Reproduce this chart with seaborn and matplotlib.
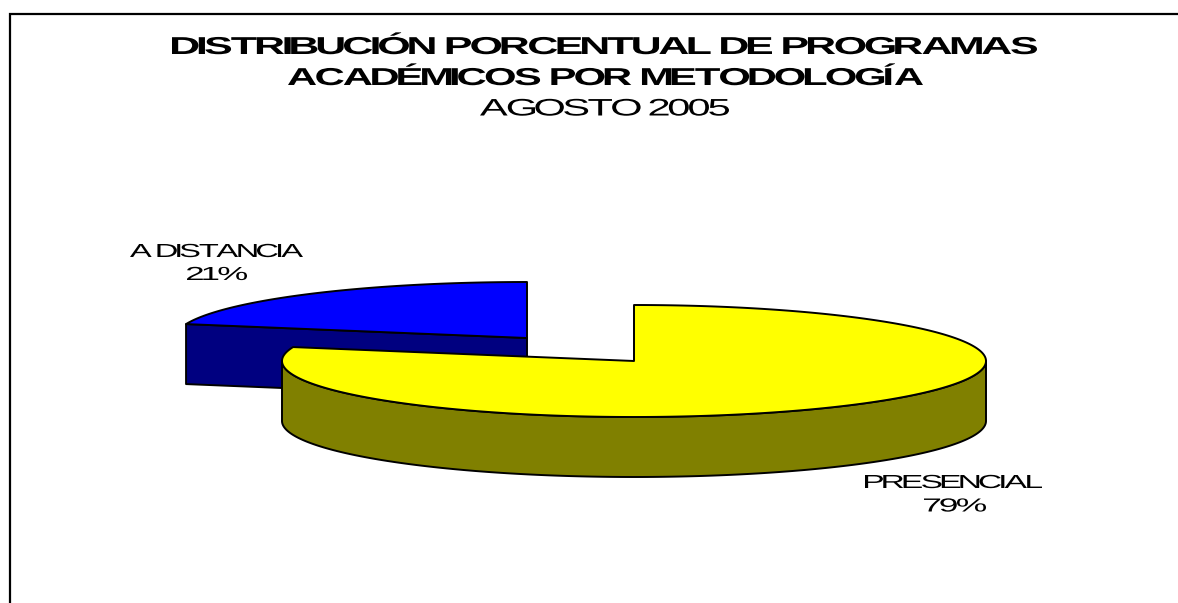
import numpy as np
import matplotlib
matplotlib.use("Agg")
import matplotlib.pyplot as plt
import matplotlib.patheffects as pe
from matplotlib.path import Path
import seaborn as sns

# ---- data ----
categories = ["PRESENCIAL", "A DISTANCIA"]
percentages = [79, 21]
top_colors = ["#FFFF00", "#0000FF"]
side_colors = ["#808000", "#000080"]
title_lines = ["DISTRIBUCIÓN PORCENTUAL DE PROGRAMAS",
               "ACADÉMICOS POR METODOLOGÍA"]
subtitle = "AGOSTO 2005"

sns.set_theme(style="white")
plt.rcParams["font.family"] = ["Liberation Sans", "DejaVu Sans"]

W, H = 1178, 603
fig = plt.figure(figsize=(W / 100, H / 100), dpi=100, facecolor="white")
ax = fig.add_axes([0, 0, 1, 1])
ax.set_xlim(0, W)
ax.set_ylim(H, 0)
ax.axis("off")

RX, RY, DEPTH = 352, 56, 60
centers = [(634, 361), (527, 338)]
LW = 1.4
EC = "black"


def arc(c, a0, a1, dy=0, n=200):
    t = np.radians(np.linspace(a0, a1, n))
    return np.column_stack([c[0] + RX * np.cos(t), c[1] - RY * np.sin(t) + dy])


# slice angles come from the values: clockwise from 12 o'clock
total = sum(percentages)
sweep = [p / total * 360 for p in percentages]
a_split = 90 - sweep[0] + 360  # boundary between slices, measured ccw

# --- blue slice (back, exploded left)
cb = np.array(centers[1], float)
blue_top = np.vstack([[cb], arc(cb, 90, a_split)])
tip = arc(cb, a_split, a_split, n=1)[0]
face = np.array([cb, tip, tip + [0, DEPTH], cb + [0, DEPTH]])
ax.fill(*face.T, fc=side_colors[1], ec=EC, lw=LW, joinstyle="round", zorder=1)
ax.fill(*blue_top.T, fc=top_colors[1], ec=EC, lw=LW, joinstyle="round", zorder=2)

# --- yellow slice (front)
cy = np.array(centers[0], float)
wall = np.vstack([arc(cy, 180, 360), arc(cy, 360, 180, dy=DEPTH)])
ax.fill(*wall.T, fc=side_colors[0], ec=EC, lw=LW, joinstyle="round", zorder=3)
yel_top = np.vstack([[cy], arc(cy, a_split, 450, n=400)])
ax.fill(*yel_top.T, fc=top_colors[0], ec=EC, lw=LW, joinstyle="round", zorder=4)

# --- chart frame: left and top edges only, the picture is cropped on the others
ax.plot([10, 10, W], [H, 14, 14], color="black", lw=1.6, zorder=5,
        solid_joinstyle="miter")


class FitWide(pe.AbstractPathEffect):
    """Redraw a text's glyphs wide and tightly tracked so it spans [x0, x1] px."""

    def __init__(self, x0, x1, tight=0.15, space=1.2):
        super().__init__()
        self.x0, self.x1, self.tight, self.space = x0, x1, tight, space

    def draw_path(self, renderer, gc, tpath, affine, rgbFace=None):
        v = tpath.vertices.copy()
        codes = tpath.codes
        starts = np.flatnonzero(codes == Path.MOVETO)
        ends = np.append(starts[1:], len(v))
        real = codes != Path.CLOSEPOLY
        spans = []
        for s, e in zip(starts, ends):
            xs = v[s:e][real[s:e], 0]
            spans.append([xs.min(), xs.max(), s, e])
        spans.sort(key=lambda b: b[0])
        bands = []  # merged contours: one band per visual glyph
        for lo, hi, s, e in spans:
            if bands and lo <= bands[-1][1]:
                bands[-1][1] = max(bands[-1][1], hi)
                bands[-1][2].append((s, e))
            else:
                bands.append([lo, hi, [(s, e)]])
        a, tx = affine.get_matrix()[0, 0], affine.get_matrix()[0, 2]
        widths = [b[1] - b[0] for b in bands]
        # a word gap in the font's path units is well above any letter gap
        thr = 0.2 * (max(v[real, 1]) - min(v[real, 1]))
        gaps = [bands[i + 1][0] - bands[i][1] for i in range(len(bands) - 1)]
        new_gaps = [g * self.space if g > thr else g * self.tight for g in gaps]
        target = (self.x1 - self.x0) / a
        g_scale = (target - sum(new_gaps)) / sum(widths)
        pos = (self.x0 - tx) / a
        for i, (lo, hi, parts) in enumerate(bands):
            for s, e in parts:
                v[s:e, 0] = pos + (v[s:e, 0] - lo) * g_scale
            pos += (hi - lo) * g_scale + (new_gaps[i] if i < len(new_gaps) else 0)
        renderer.draw_path(gc, Path(v, codes), affine, rgbFace)


def label(x0, x1, y, s, size, weight="normal", space=1.2):
    t = ax.text((x0 + x1) / 2, y, s, ha="center", va="baseline", fontsize=size,
                fontweight=weight, color="black")
    t.set_path_effects([FitWide(x0, x1, space=space)])
    return t


# --- text
label(172, 1037, 54, title_lines[0], 17.6, "bold")
label(288, 923, 85, title_lines[1], 17.6, "bold")
label(480, 729, 115.5, subtitle, 17.2, space=1.0)
label(130, 303, 257, categories[1], 13.6, space=1.0)
label(187, 247, 280, f"{percentages[1]}%", 13.6)
label(865, 1042, 488, categories[0], 13.6)
label(924, 986, 511.5, f"{percentages[0]}%", 13.6)

fig.savefig("out.png", dpi=100, facecolor="white")
